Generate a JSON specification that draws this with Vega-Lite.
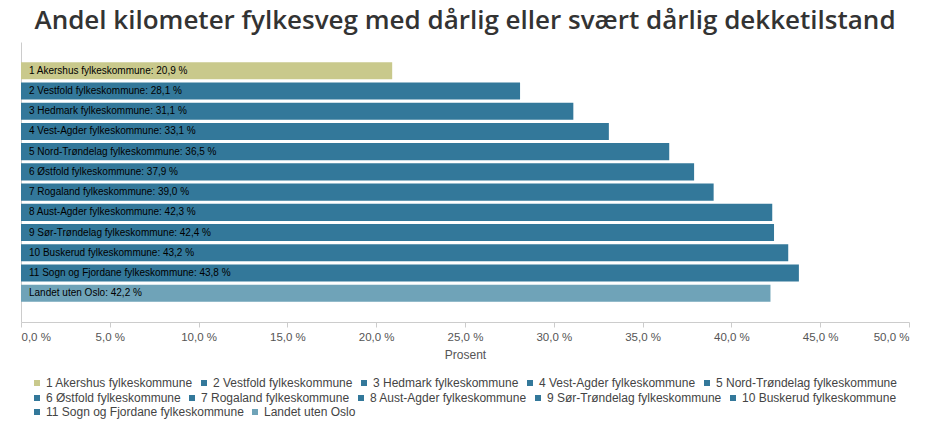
{
  "$schema": "https://vega.github.io/schema/vega-lite/v6.json",
  "autosize": {"type": "none"},
  "width": 888,
  "height": 280,
  "padding": {"left": 21, "top": 42, "right": 23, "bottom": 113},
  "background": "#ffffff",
  "title": {
    "text": "Andel kilometer fylkesveg med dårlig eller svært dårlig dekketilstand",
    "font": "Open Sans",
    "fontSize": 26,
    "fontWeight": 600,
    "color": "#333333",
    "anchor": "middle",
    "offset": 8
  },
  "data": {
    "values": [
      {"name": "1 Akershus fylkeskommune", "value": 20.9},
      {"name": "2 Vestfold fylkeskommune", "value": 28.1},
      {"name": "3 Hedmark fylkeskommune", "value": 31.1},
      {"name": "4 Vest-Agder fylkeskommune", "value": 33.1},
      {"name": "5 Nord-Trøndelag fylkeskommune", "value": 36.5},
      {"name": "6 Østfold fylkeskommune", "value": 37.9},
      {"name": "7 Rogaland fylkeskommune", "value": 39.0},
      {"name": "8 Aust-Agder fylkeskommune", "value": 42.3},
      {"name": "9 Sør-Trøndelag fylkeskommune", "value": 42.4},
      {"name": "10 Buskerud fylkeskommune", "value": 43.2},
      {"name": "11 Sogn og Fjordane fylkeskommune", "value": 43.8},
      {"name": "Landet uten Oslo", "value": 42.2}
    ]
  },
  "transform": [
    {"calculate": "datum.name + ': ' + replace(format(datum.value, '.1f'), '.', ',') + ' %'", "as": "label"}
  ],
  "encoding": {
    "y": {
      "field": "name",
      "type": "nominal",
      "sort": null,
      "scale": {"paddingInner": 0.155, "paddingOuter": 1.24},
      "axis": {
        "title": null,
        "labels": false,
        "ticks": false,
        "domain": true,
        "domainColor": "#cccccc",
        "grid": false
      }
    },
    "x": {
      "field": "value",
      "type": "quantitative",
      "scale": {"domain": [0, 50], "nice": false},
      "axis": {
        "title": "Prosent",
        "values": [0, 5, 10, 15, 20, 25, 30, 35, 40, 45, 50],
        "labelExpr": "replace(format(datum.value, '.1f'), '.', ',') + ' %'",
        "grid": false,
        "domainColor": "#cccccc",
        "tickColor": "#cccccc",
        "tickSize": 5,
        "labelFont": "Liberation Sans",
        "labelFontSize": 11.5,
        "labelColor": "#555555",
        "labelPadding": 4,
        "titleFont": "Liberation Sans",
        "titleFontSize": 12,
        "titleFontWeight": "normal",
        "titleColor": "#555555",
        "titlePadding": 7
      }
    }
  },
  "layer": [
    {
      "transform": [{"filter": {"field": "name", "oneOf": ["1 Akershus fylkeskommune", "2 Vestfold fylkeskommune", "3 Hedmark fylkeskommune", "4 Vest-Agder fylkeskommune", "5 Nord-Trøndelag fylkeskommune"]}}],
      "mark": {"type": "bar"},
      "encoding": {
        "color": {
          "field": "name",
          "type": "nominal",
          "sort": null,
          "scale": {
            "domain": ["1 Akershus fylkeskommune", "2 Vestfold fylkeskommune", "3 Hedmark fylkeskommune", "4 Vest-Agder fylkeskommune", "5 Nord-Trøndelag fylkeskommune"],
            "range": ["#c9c98c", "#33789a", "#33789a", "#33789a", "#33789a"]
          },
          "legend": {"legendY": 335}
        }
      }
    },
    {
      "transform": [{"filter": {"field": "name", "oneOf": ["6 Østfold fylkeskommune", "7 Rogaland fylkeskommune", "8 Aust-Agder fylkeskommune", "9 Sør-Trøndelag fylkeskommune", "10 Buskerud fylkeskommune"]}}],
      "mark": {"type": "bar"},
      "encoding": {
        "color": {
          "field": "name",
          "type": "nominal",
          "sort": null,
          "scale": {
            "domain": ["6 Østfold fylkeskommune", "7 Rogaland fylkeskommune", "8 Aust-Agder fylkeskommune", "9 Sør-Trøndelag fylkeskommune", "10 Buskerud fylkeskommune"],
            "range": ["#33789a", "#33789a", "#33789a", "#33789a", "#33789a"]
          },
          "legend": {"legendY": 350}
        }
      }
    },
    {
      "transform": [{"filter": {"field": "name", "oneOf": ["11 Sogn og Fjordane fylkeskommune", "Landet uten Oslo"]}}],
      "mark": {"type": "bar"},
      "encoding": {
        "color": {
          "field": "name",
          "type": "nominal",
          "sort": null,
          "scale": {
            "domain": ["11 Sogn og Fjordane fylkeskommune", "Landet uten Oslo"],
            "range": ["#33789a", "#6fa3b8"]
          },
          "legend": {"legendY": 364}
        }
      }
    },
    {
      "mark": {"type": "text", "align": "left", "baseline": "middle", "dx": 8, "font": "Liberation Sans", "fontSize": 10, "color": "#000000"},
      "encoding": {
        "x": {"datum": 0, "type": "quantitative"},
        "text": {"field": "label"}
      }
    }
  ],
  "resolve": {"scale": {"color": "independent"}, "legend": {"color": "independent"}},
  "config": {
    "view": {"stroke": null},
    "legend": {
      "title": null,
      "orient": "none",
      "legendX": 10,
      "direction": "horizontal",
      "symbolType": "square",
      "symbolSize": 36,
      "symbolStrokeWidth": 0,
      "symbolOffset": 0,
      "labelOffset": 3,
      "columnPadding": 5,
      "labelFont": "Liberation Sans",
      "labelFontSize": 12,
      "labelColor": "#444444",
      "labelLimit": 400
    }
  }
}
